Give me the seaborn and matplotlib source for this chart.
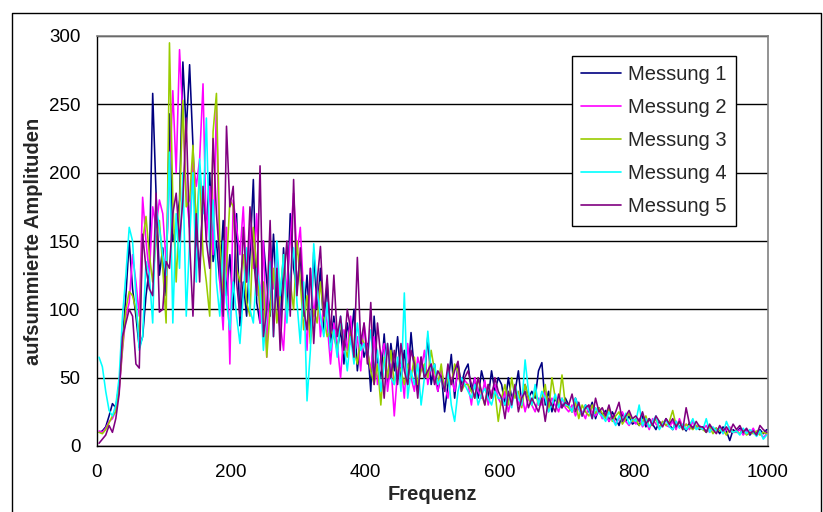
import matplotlib
matplotlib.use("Agg")
import matplotlib.pyplot as plt
import seaborn as sns
import pandas as pd
from matplotlib.lines import Line2D

freq = list(range(3, 1000, 5))

messung_1 = [
    10, 11, 14, 22, 31, 28, 45, 75, 110, 150,
    115, 95, 72, 80, 110, 130, 258, 185, 125, 145,
    110, 243, 150, 160, 180, 281, 230, 279, 220, 150,
    130, 180, 160, 200, 135, 150, 120, 165, 110, 140,
    100, 170, 88, 120, 95, 140, 195, 105, 90, 150,
    120, 95, 155, 110, 85, 145, 100, 170, 130, 115,
    140, 95, 125, 80, 142, 100, 130, 85, 120, 75,
    95, 70, 85, 60, 90, 75, 100, 55, 80, 65,
    75, 40, 95, 60, 50, 82, 45, 75, 55, 80,
    50, 70, 45, 83, 55, 40, 65, 50, 80, 45,
    60, 40, 55, 25, 45, 67, 35, 60, 45, 55,
    60, 40, 50, 35, 55, 45, 35, 55, 40, 50,
    45, 30, 50, 35, 40, 55, 30, 45, 35, 40,
    35, 55, 61, 30, 40, 25, 35, 30, 28, 35,
    30, 25, 35, 28, 22, 30, 25, 32, 20, 28,
    22, 26, 18, 25, 20, 15, 24, 18, 22, 16,
    18, 15, 22, 14, 20, 16, 12, 18, 15, 20,
    16, 12, 18, 14, 15, 11, 17, 13, 15, 12,
    14, 10, 15, 12, 13, 9, 14, 11, 4, 12,
    10, 13, 9, 12, 8, 11, 10, 12, 9, 12,
]

messung_2 = [
    11, 10, 13, 18, 20, 26, 40, 70, 95, 105,
    140, 120, 95, 182, 150, 125, 175, 160, 180, 170,
    135, 195, 260, 200, 290, 240, 185, 160, 210, 190,
    210, 265, 150, 190, 140, 250, 120, 85, 160, 60,
    180, 160, 140, 175, 120, 160, 130, 170, 90, 150,
    65, 150, 115, 140, 90, 70, 120, 150, 185, 140,
    160, 110, 70, 130, 95, 120, 80, 105, 90, 60,
    90, 75, 50, 85, 70, 95, 65, 80, 55, 90,
    70, 55, 80, 45, 65, 75, 40, 60, 22, 55,
    60, 35, 75, 50, 40, 65, 55, 70, 45, 60,
    50, 40, 55, 45, 35, 50, 40, 55, 42, 48,
    45, 30, 50, 40, 35, 48, 30, 40, 45, 35,
    30, 40, 25, 35, 42, 30, 38, 25, 35, 30,
    25, 35, 30, 40, 28, 35, 30, 25, 35, 28,
    25, 30, 22, 28, 25, 20, 30, 25, 22, 26,
    20, 24, 18, 22, 16, 20, 25, 18, 15, 20,
    16, 20, 14, 18, 12, 20, 16, 14, 18, 15,
    14, 18, 12, 20, 14, 16, 12, 18, 13, 15,
    12, 15, 10, 13, 11, 14, 9, 12, 14, 10,
    10, 12, 8, 11, 9, 13, 8, 10, 6, 9,
]

messung_3 = [
    10, 9, 12, 17, 22, 25, 42, 72, 100, 113,
    110, 100, 80, 150, 168, 140, 120, 150, 165, 130,
    90, 295, 180, 120, 175, 253, 175, 180, 220, 160,
    200, 140, 120, 95, 230, 258, 150, 110, 130, 180,
    175, 130, 120, 140, 105, 95, 160, 130, 100, 120,
    65, 100, 130, 90, 110, 140, 95, 120, 100, 150,
    120, 85, 110, 75, 100, 90, 120, 95, 80, 85,
    80, 70, 90, 75, 65, 85, 70, 60, 80, 75,
    70, 55, 45, 60, 30, 65, 50, 70, 45, 60,
    55, 45, 60, 50, 65, 45, 55, 60, 50, 70,
    55, 45, 60, 40, 50, 45, 60, 55, 40, 45,
    45, 40, 35, 50, 38, 30, 45, 35, 40, 18,
    35, 45, 30, 50, 35, 40, 28, 45, 35, 30,
    40, 30, 35, 45, 25, 50, 35, 30, 52, 30,
    28, 25, 32, 20, 30, 25, 22, 30, 24, 28,
    24, 20, 28, 18, 22, 25, 16, 20, 24, 18,
    20, 15, 18, 22, 14, 16, 20, 13, 18, 15,
    18, 26, 15, 18, 12, 16, 14, 12, 15, 13,
    12, 10, 14, 9, 13, 11, 12, 8, 13, 10,
    11, 9, 12, 8, 10, 9, 11, 8, 10, 9,
]

messung_4 = [
    65, 58, 40, 26, 22, 30, 50, 95, 125, 160,
    150, 110, 70, 80, 135, 125, 90, 175, 160, 140,
    125, 215, 90, 170, 130, 200, 95, 150, 200, 120,
    210, 170, 240, 140, 180, 120, 95, 150, 105, 85,
    120, 95, 75, 110, 145, 100, 90, 130, 115, 70,
    100, 135, 80, 150, 110, 140, 90, 125, 145, 105,
    75, 120, 33, 70, 148, 115, 95, 80, 105, 70,
    85, 65, 95, 75, 55, 80, 60, 90, 70, 75,
    65, 85, 55, 70, 40, 60, 75, 50, 45, 65,
    40, 112, 35, 55, 45, 60, 30, 50, 84, 55,
    60, 45, 50, 40, 55, 30, 18, 40, 50, 45,
    40, 35, 45, 30, 38, 42, 35, 30, 40, 35,
    35, 30, 40, 28, 45, 35, 30, 63, 40, 30,
    45, 30, 40, 35, 25, 30, 38, 28, 35, 30,
    30, 25, 35, 28, 22, 30, 26, 20, 28, 24,
    22, 18, 25, 20, 15, 22, 18, 24, 16, 20,
    18, 30, 15, 20, 14, 18, 22, 12, 16, 19,
    14, 12, 18, 13, 16, 12, 15, 20, 12, 14,
    12, 20, 10, 14, 11, 13, 9, 18, 12, 10,
    11, 8, 13, 9, 12, 10, 7, 11, 5, 8,
]

messung_5 = [
    2, 5, 8, 15, 10, 20, 38, 80, 90, 100,
    95, 60, 57, 155, 130, 115, 110, 185, 98, 100,
    135, 130, 170, 185, 150, 180, 240, 150, 95, 170,
    120, 190, 150, 130, 225, 170, 135, 95, 234, 175,
    190, 120, 95, 160, 120, 175, 140, 110, 205, 80,
    100, 165, 80, 130, 70, 120, 150, 95, 195, 110,
    145, 100, 85, 130, 75, 120, 146, 95, 125, 80,
    125, 80, 95, 70, 100, 85, 65, 138, 75, 90,
    60, 105, 45, 90, 65, 35, 75, 50, 70, 45,
    75, 55, 45, 70, 60, 35, 65, 50, 55, 60,
    45, 55, 50, 40, 60, 45, 55, 62, 40, 50,
    55, 45, 35, 50, 40, 30, 45, 35, 50, 40,
    35, 20, 40, 30, 45, 25, 35, 40, 28, 35,
    30, 25, 35, 18, 35, 30, 25, 38, 28, 32,
    30, 38, 25, 32, 22, 28, 30, 20, 35, 25,
    28, 22, 30, 20, 25, 32, 18, 22, 26, 20,
    22, 18, 25, 16, 20, 15, 22, 18, 14, 20,
    16, 20, 14, 18, 12, 28, 16, 13, 18, 14,
    14, 10, 16, 12, 9, 15, 11, 14, 10, 16,
    12, 15, 10, 13, 9, 11, 8, 15, 12, 10,
]

series_names = ["Messung 1", "Messung 2", "Messung 3", "Messung 4", "Messung 5"]
series_colors = ["#000080", "#FF00FF", "#99CC00", "#00FFFF", "#800080"]
y_ticks = [0, 50, 100, 150, 200, 250, 300]
x_ticks = [0, 200, 400, 600, 800, 1000]

frames = []
for name, vals in zip(series_names, [messung_1, messung_2, messung_3, messung_4, messung_5]):
    frames.append(pd.DataFrame({"Frequenz": freq, "Amplitude": vals, "Messung": name}))
df = pd.concat(frames, ignore_index=True)

sns.set_style("white")
plt.rcParams["font.family"] = ["Liberation Sans", "DejaVu Sans"]

fig = plt.figure(figsize=(8.23, 5.12), dpi=100)
ax = fig.add_axes([97 / 823, 1 - 446 / 512, (768 - 97) / 823, (446 - 36) / 512])

sns.lineplot(data=df, x="Frequenz", y="Amplitude", hue="Messung",
             palette=dict(zip(series_names, series_colors)), hue_order=series_names,
             estimator=None, linewidth=1.15, ax=ax, legend=False, zorder=3)

ax.set_xlim(0, 1000)
ax.set_ylim(0, 300)
ax.set_xticks(x_ticks)
ax.set_yticks(y_ticks)
ax.tick_params(axis="both", labelsize=13.5, direction="out", length=5, width=1,
               color="black", labelcolor="black")
ax.tick_params(axis="y", pad=7)
ax.tick_params(axis="x", pad=8)
ax.yaxis.grid(True, color="black", linewidth=1.0)
ax.set_axisbelow(True)
for s in ["top", "right"]:
    ax.spines[s].set_color("#808080")
    ax.spines[s].set_linewidth(1.2)
for s in ["left", "bottom"]:
    ax.spines[s].set_color("black")
    ax.spines[s].set_linewidth(1.0)

ax.set_xlabel("Frequenz", fontsize=14.5, fontweight="bold", labelpad=3)
ax.set_ylabel("aufsummierte Amplituden", fontsize=14.5, fontweight="bold", labelpad=4)

handles = [Line2D([0], [0], color=c, lw=1.2) for c in series_colors]
leg = ax.legend(handles, series_names, loc="upper left",
                bbox_to_anchor=((572 - 97) / 671, (446 - 56) / 410),
                fontsize=14.5, frameon=True, fancybox=False, shadow=False,
                handlelength=2.0, handletextpad=0.35, labelspacing=0.7,
                borderpad=0.45, borderaxespad=0)
leg.get_frame().set_edgecolor("black")
leg.get_frame().set_linewidth(1.0)
leg.get_frame().set_facecolor("white")
leg.get_frame().set_alpha(1)

# outer chart border
fig.add_artist(Line2D([12 / 823, 12 / 823, 821 / 823, 821 / 823],
                      [-0.01, 1 - 13 / 512, 1 - 13 / 512, -0.01],
                      color="black", lw=1.0, transform=fig.transFigure))

fig.savefig("out.png", dpi=100)
